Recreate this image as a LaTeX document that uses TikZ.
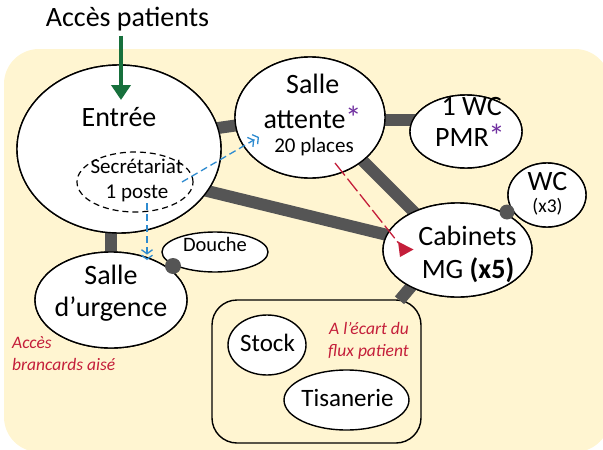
\documentclass[tikz,border=0pt]{standalone}
\usepackage{fontspec}
\setmainfont{Carlito}
\usetikzlibrary{shapes.geometric,arrows.meta,calc}
\definecolor{bgyellow}{HTML}{FFF5D1}
\definecolor{linkgray}{HTML}{555555}
\definecolor{accgreen}{HTML}{17703C}
\definecolor{flowblue}{HTML}{2E8BD0}
\definecolor{flowred}{HTML}{C41E3A}
\definecolor{starpurple}{HTML}{7030A0}
\tikzset{
  room/.style={ellipse, draw=black, line width=1.4pt, fill=white, inner sep=0pt},
  link/.style={line width=12pt, draw=linkgray},
  joint/.style={circle, fill=linkgray, inner sep=0pt},
  txt/.style={anchor=base, inner sep=0pt},
  bigtxt/.style={txt, font=\fontsize{28}{34}\selectfont},
  midtxt/.style={txt, font=\fontsize{25}{30}\selectfont},
  smalltxt/.style={txt, font=\fontsize{21}{25}\selectfont},
  notetxt/.style={inner sep=0pt, font=\fontsize{17.5}{21}\selectfont\itshape, text=flowred},
  blueflow/.style={draw=flowblue, line width=1.3pt, dash pattern=on 7pt off 4pt,
    -{Straight Barb[length=4pt,width=11pt] Straight Barb[length=4pt,width=11pt]}},
}
\newcommand{\pstar}{\kern-0.5pt\raisebox{-1pt}{\textcolor{starpurple}{\fontsize{33}{33}\selectfont *}}}
\begin{document}
\begin{tikzpicture}[x=1pt,y=-1pt]
\useasboundingbox (0,0) rectangle (603,450);
% background
\begin{scope}
\clip (0,0) rectangle (603,450);
\fill[bgyellow, rounded corners=35pt] (4,49) rectangle (610,452);
\end{scope}
% room nodes (shapes only, placed first so links can reference them)
\path
  (119,149) node[room, minimum width=204pt, minimum height=168pt] (entree) {}
  (310,117.5) node[room, minimum width=150pt, minimum height=121pt] (attente) {}
  (466,131.5) node[room, minimum width=112pt, minimum height=73pt] (wcpmr) {}
  (547,195) node[room, minimum width=78pt, minimum height=64pt] (wcthree) {}
  (457.5,250) node[room, minimum width=149pt, minimum height=94pt] (cab) {}
  (111,300) node[room, minimum width=152pt, minimum height=96pt] (urg) {}
  (316.5,371.5) node[draw=black, line width=1.4pt, rounded corners=25pt, minimum width=209pt, minimum height=143pt, inner sep=0pt] (box) {};
% links behind
\begin{scope}
\draw[link] ($(entree.center)+(71,-17)$) -- ($(attente.center)+(-50,4.5)$);
\draw[link] ($(entree.center)+(31,28)$) -- ($(cab.center)+(-37.5,-7)$);
\draw[link] ($(entree.center)+(-8,51)$) -- ($(urg.center)+(0,-20)$);
\draw[link] ($(attente.center)+(40,2.5)$) -- ($(wcpmr.center)+(-26,-11.5)$);
\draw[link] ($(attente.center)+(35,25.5)$) -- ($(cab.center)+(-27.5,-22)$);
\draw[link] ($(cab.center)+(-37.5,26)$) -- ($(box.north)+(83,1)$);
\end{scope}
% redraw rooms on top of links
\path
  (119,149) node[room, minimum width=204pt, minimum height=168pt] (entreeF) {}
  (310,117.5) node[room, minimum width=150pt, minimum height=121pt] (attenteF) {}
  (466,131.5) node[room, minimum width=112pt, minimum height=73pt] (wcpmrF) {}
  (547,195) node[room, minimum width=78pt, minimum height=64pt] (wcthreeF) {}
  (457.5,250) node[room, minimum width=149pt, minimum height=94pt] (cabF) {}
  (111,300) node[room, minimum width=152pt, minimum height=96pt] (urgF) {}
  (215,252) node[room, minimum width=106pt, minimum height=40pt] (douche) {}
  (267,345) node[room, minimum width=78pt, minimum height=60pt] (stock) {}
  (346.5,400) node[room, minimum width=125pt, minimum height=60pt] (tisan) {};
\node[ellipse, draw=black, fill=white, line width=1.2pt, dash pattern=on 6pt off 4pt,
  minimum width=116pt, minimum height=60pt, inner sep=0pt] (secr) at (135,182) {};
% joints
\node[joint, minimum size=15pt] (jwc) at (507,212) {};
\node[joint, minimum size=16pt] (jdouche) at (173,266) {};
% texts
\node[bigtxt] (tacces) at (127.5,26) {Accès patients};
\node[bigtxt] (tentree) at (119,126.7) {Entrée};
\node[smalltxt] (tsecr1) at (136.7,173) {Secrétariat};
\node[smalltxt] (tsecr2) at (137,198) {1 poste};
\node[bigtxt] (tatt1) at (312.7,93.3) {Salle};
\node[bigtxt] (tatt2) at (312.5,128.3) {attente\pstar};
\node[smalltxt] (tatt3) at (314,152.7) {20 places};
\node[bigtxt] (twc1) at (471.7,115) {1 WC};
\node[bigtxt] (twc2) at (470,146.7) {PMR\pstar};
\node[bigtxt] (twc3a) at (547.5,190) {WC};
\node[txt, font=\fontsize{19.5}{23}\selectfont] (twc3b) at (547.5,212) {(x3)};
\node[bigtxt] (tcab1) at (467.5,245) {Cabinets};
\node[bigtxt] (tcab2) at (468,278) {MG \textbf{(x5)}};
\node[bigtxt] (turg1) at (111,284) {Salle};
\node[bigtxt] (turg2) at (111,316.7) {d’urgence};
\node[txt, font=\fontsize{20.5}{24}\selectfont] (tdouche) at (215,251) {Douche};
\node[midtxt] (tstock) at (267.5,351.7) {Stock};
\node[midtxt] (ttisan) at (347.5,406) {Tisanerie};
\node[notetxt, anchor=base east] (tnote1) at (409,334) {A l’écart du};
\node[notetxt, anchor=base east] (tnote2) at (409,356.7) {flux patient};
\node[notetxt, anchor=base west] (tbr1) at (12,348.3) {Accès};
\node[notetxt, anchor=base west] (tbr2) at (12,370) {brancards aisé};
% flows
\draw[accgreen, line width=4pt, -{Triangle[length=15pt,width=19pt]}]
  ($(tacces.south)+(-6.5,5)$) -- ($(entree.center)+(2,-49)$);
\draw[blueflow] ($(secr.center)+(47,0)$) -- ($(attente.center)+(-51,19.5)$);
\draw[blueflow] ($(secr.center)+(12,21)$) -- ($(urg.center)+(36,-40)$);
\coordinate (redtip) at ($(cab.center)+(-59,-7)$);
\draw[flowred, line width=1.3pt, dash pattern=on 16pt off 4pt]
  ($(attente.center)+(25,45.5)$) -- (redtip);
\fill[flowred] ($(redtip)+(-0.5,-1.5)$) -- ($(redtip)+(1.5,14)$) -- ($(redtip)+(15,6.5)$) -- cycle;
\end{tikzpicture}
\end{document}
